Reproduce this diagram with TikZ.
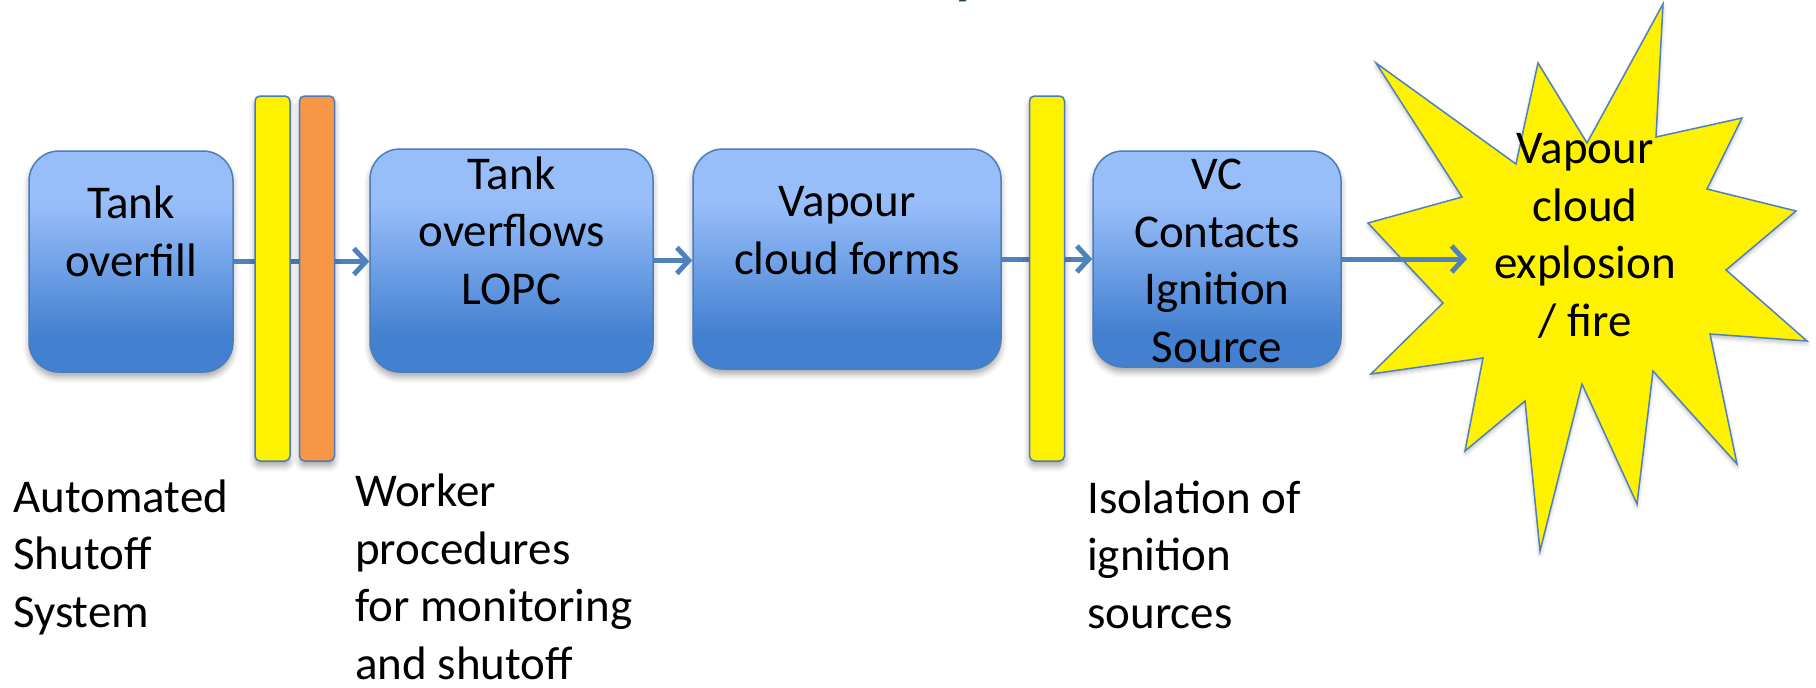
\documentclass[tikz,border=0pt]{standalone}
\usepackage{fontspec}
\setmainfont{Carlito}
\usetikzlibrary{arrows.meta,shadows.blur}
\definecolor{blight}{HTML}{98BEFA}
\definecolor{bdark}{HTML}{4380D0}
\definecolor{bedge}{HTML}{4A7EBB}
\definecolor{lineblue}{HTML}{4F81BD}
\definecolor{barorange}{HTML}{F79646}
\definecolor{titlegreen}{HTML}{254A3E}
\pgfdeclareverticalshading{boxshade}{100bp}{color(0bp)=(bdark); color(33bp)=(bdark); color(63bp)=(blight); color(100bp)=(blight)}
\begin{document}
\begin{tikzpicture}[x=1pt,y=-1pt,
  stepbox/.style={draw=bedge, line width=1.5pt, rounded corners=30pt, shade, shading=boxshade, inner sep=0pt,
    blur shadow={shadow xshift=0pt, shadow yshift=-5pt, shadow blur radius=6pt, shadow opacity=35}},
  barbox/.style={draw=bedge, line width=1.5pt, rounded corners=5pt, minimum width=35pt, minimum height=365pt, inner sep=0pt,
    blur shadow={shadow xshift=0pt, shadow yshift=-5pt, shadow blur radius=6pt, shadow opacity=35}},
  boxtext/.style={font=\fontsize{47}{57.5}\selectfont, align=center, inner sep=0pt, anchor=base},
  lab/.style={font=\fontsize{47}{57.5}\selectfont, align=left, inner sep=0pt, anchor=base west},
  flow/.style={draw=lineblue, line width=5pt, -{Straight Barb[length=12pt,width=26pt]}}]
\useasboundingbox (0,0) rectangle (1816,688);
% title fragment
\node[font=\fontsize{60}{60}\bfseries\selectfont, text=titlegreen, inner sep=0pt, anchor=base] (ttl) at (968,-7) {y};
% boxes
\node[stepbox, minimum width=204pt, minimum height=221pt] (b1) at (131,261.5) {};
\node[stepbox, minimum width=283pt, minimum height=223pt] (b2) at (511.5,260.5) {};
\node[stepbox, minimum width=308pt, minimum height=220pt] (b3) at (847,259) {};
\node[stepbox, minimum width=248pt, minimum height=216pt] (b4) at (1217,259) {};
% arrows
\draw[flow] (b1.east) -- (b1.east -| b2.west);
\draw[flow] (b2.east) -- (b2.east -| b3.west);
\draw[flow] (b3.east) -- (b3.east -| b4.west);
% barriers
\node[barbox, fill=yellow] (y1) at (272.5,278.5) {};
\node[barbox, fill=barorange] (o1) at (317,278.5) {};
\node[barbox, fill=yellow] (y2) at (1047,278.5) {};
% box texts (anchor = baseline of last line)
\node[boxtext] (t1) at (131,276) {Tank\\overfill};
\node[boxtext] (t2) at (511.5,304) {Tank\\overflows\\LOPC};
\node[boxtext] (t3) at (847,274) {Vapour\\cloud forms};
\node[boxtext] (t4) at (1217,362) {VC\\Contacts\\Ignition\\Source};
% star
\draw[draw=lineblue, line width=1.5pt, fill=yellow,
  blur shadow={shadow xshift=0pt, shadow yshift=-3pt, shadow blur radius=4pt, shadow opacity=25}]
  (1663,4) -- (1656,137) -- (1742,118) -- (1707,189) -- (1796,211) -- (1726,270) -- (1807,341)
  -- (1710,334) -- (1737,464) -- (1653,371) -- (1637,504) -- (1582,384) -- (1540,551) -- (1525,401)
  -- (1465,451) -- (1483,358) -- (1371,374) -- (1443,303) -- (1368,223) -- (1462,197) -- (1376,63)
  -- (1516,164) -- (1538,63) -- (1587,143) -- cycle;
\coordinate (tip) at (1467,261);
\draw[flow] (b4.east) -- (b4.east -| tip);
\node[boxtext] (t5) at (1585,336) {Vapour\\cloud\\explosion\\/ fire};
% labels
\node[lab] (l1) at (13,627) {Automated\\Shutoff\\System};
\node[lab] (l2) at (355,679) {Worker\\procedures\\for monitoring\\and shutoff};
\node[lab] (l3) at (1087,628) {Isolation of\\ignition\\sources};
\end{tikzpicture}
\end{document}
